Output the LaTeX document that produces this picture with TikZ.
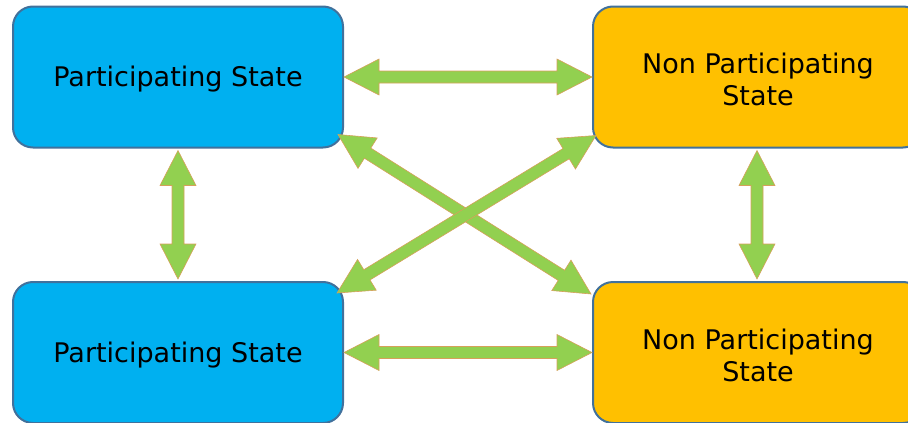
\documentclass[tikz,border=0pt]{standalone}
\usepackage{fontspec}
\setmainfont{DejaVu Sans}
\usetikzlibrary{calc}
\definecolor{pblue}{HTML}{00B0F0}
\definecolor{porange}{HTML}{FFC000}
\definecolor{pborder}{HTML}{41719C}
\definecolor{pgreen}{HTML}{92D050}
\definecolor{pedge}{RGB}{214,160,90}
\tikzset{
  statebox/.style={draw=pborder, line width=2pt, rounded corners=20pt,
    minimum width=330pt, minimum height=141pt, inner sep=0pt,
    align=center, font=\fontsize{27pt}{32pt}\selectfont},
  pstate/.style={statebox, fill=pblue},
  nstate/.style={statebox, fill=porange},
  blockarrow/.style={fill=pgreen, draw=pedge, line width=0.6pt, line join=miter}
}
\newcommand\hl{35pt}
\newcommand\hW{18pt}
\newcommand\hw{6pt}
\newcommand\lowr[1]{\raisebox{-2.5pt}[\height][\depth]{#1}}
\newcommand\dblarrow[2]{%
  \draw[blockarrow] (#1)
    -- ($(#1)!\hl!(#2)!\hW!90:(#2)$)
    -- ($(#1)!\hl!(#2)!\hw!90:(#2)$)
    -- ($(#2)!\hl!(#1)!\hw!-90:(#1)$)
    -- ($(#2)!\hl!(#1)!\hW!-90:(#1)$)
    -- (#2)
    -- ($(#2)!\hl!(#1)!\hW!90:(#1)$)
    -- ($(#2)!\hl!(#1)!\hw!90:(#1)$)
    -- ($(#1)!\hl!(#2)!\hw!-90:(#2)$)
    -- ($(#1)!\hl!(#2)!\hW!-90:(#2)$)
    -- cycle;}
\begin{document}
\begin{tikzpicture}[x=1pt,y=-1pt]
\useasboundingbox (0,0) rectangle (908,423);
\node[pstate] (tl) at (178,77) {\lowr{Participating State}};
\node[nstate] (tr) at (758,77) {\lowr{Non Participating}\\\lowr{State}};
\node[pstate] (bl) at (178,352.5) {\lowr{Participating State}};
\node[nstate] (br) at (758,352.5) {\lowr{Non Participating}\\\lowr{State}};
% arrow end points
\coordinate (a1) at ($(tl.south east)+(-6,-14)$);
\coordinate (a2) at ($(br.north west)+(-1,13)$);
\coordinate (b1) at ($(tr.south west)+(4,-13)$);
\coordinate (b2) at ($(bl.north east)+(-7,12)$);
\coordinate (tlb) at ($(tl.south)+(0,2)$);
\coordinate (blt) at ($(bl.north)+(0,-2)$);
\coordinate (trb) at ($(tr.south)+(-1,2)$);
\coordinate (brt) at ($(br.north)+(-1,-2)$);
\dblarrow{tl.east}{tr.west}
\dblarrow{bl.east}{br.west}
\dblarrow{tlb}{blt}
\dblarrow{trb}{brt}
\dblarrow{a1}{a2}
\dblarrow{b1}{b2}
\end{tikzpicture}
\end{document}
